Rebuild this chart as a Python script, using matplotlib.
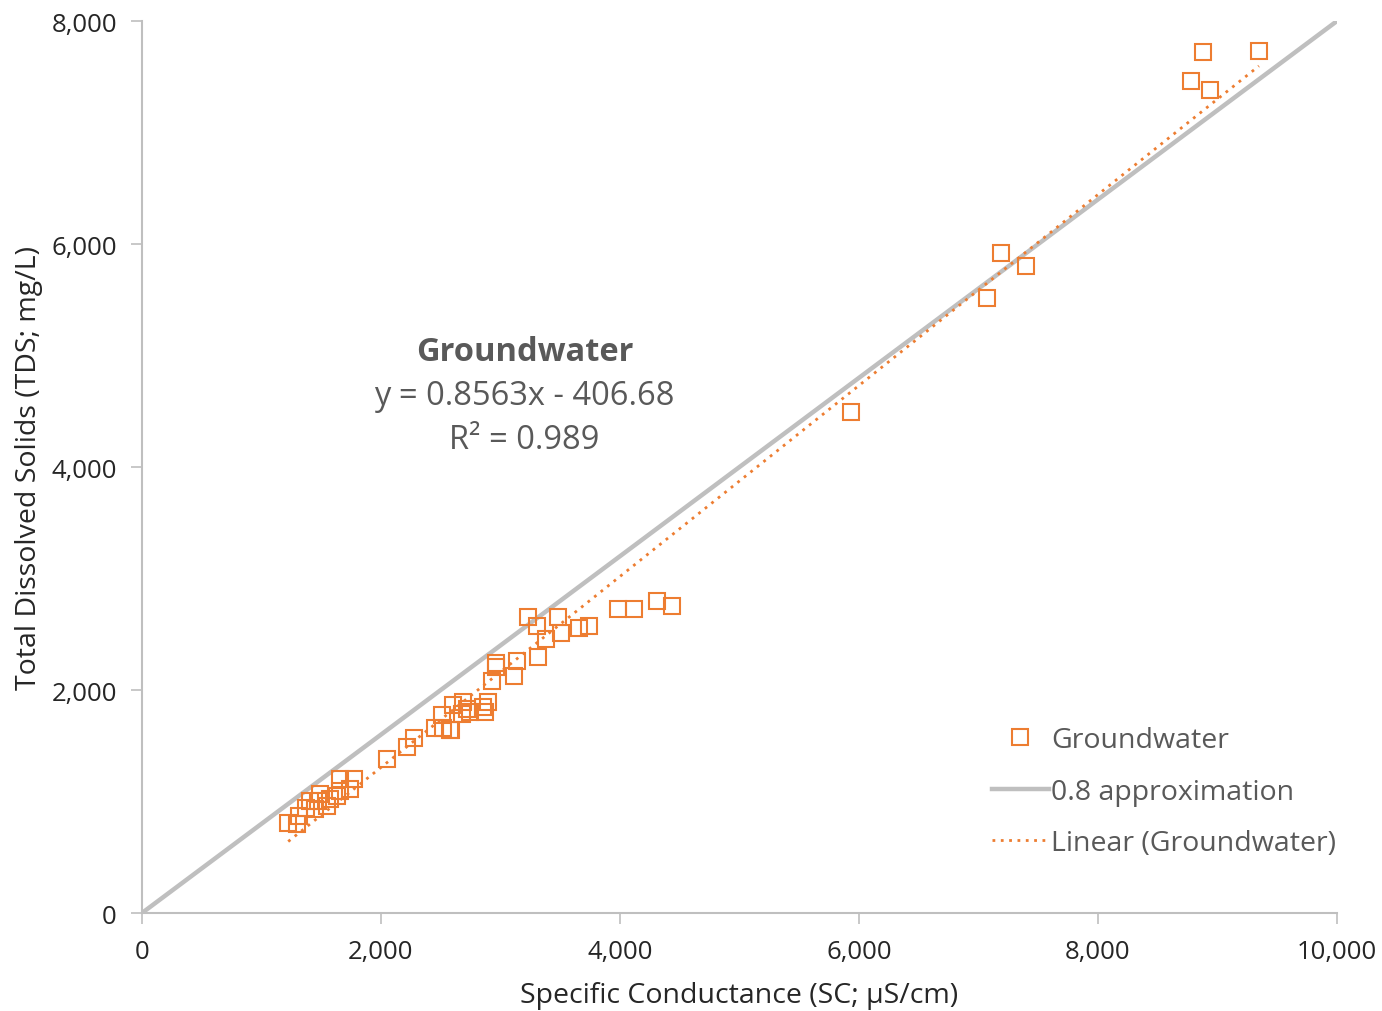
import numpy as np
import matplotlib.pyplot as plt
from matplotlib.ticker import FuncFormatter, MultipleLocator

plt.rcParams['font.family'] = ['Open Sans', 'DejaVu Sans']

# Groundwater samples: specific conductance (uS/cm) and TDS (mg/L)
sc = [1224, 1294, 1316, 1372, 1406, 1448, 1476, 1490, 1545, 1573,
      1629, 1657, 1657, 1741, 1774, 2047, 2215, 2279, 2452, 2508,
      2516, 2577, 2589, 2605, 2675, 2689, 2717, 2745, 2856, 2870,
      2898, 2926, 2960, 2960, 3115, 3135, 3233, 3303, 3311, 3378,
      3478, 3506, 3657, 3741, 3981, 4120, 4312, 4432, 5933, 7068,
      7188, 7394, 8780, 8876, 8937, 9347]
tds = [804, 798, 873, 939, 1007, 934, 1007, 1067, 962, 1022,
       1052, 1097, 1202, 1112, 1202, 1381, 1492, 1567, 1656, 1776,
       1656, 1644, 1640, 1865, 1785, 1889, 1830, 1800, 1845, 1805,
       1889, 2078, 2239, 2203, 2128, 2263, 2657, 2577, 2299, 2454,
       2657, 2511, 2553, 2577, 2726, 2726, 2798, 2750, 4493, 5513,
       5922, 5806, 7459, 7719, 7381, 7728]

slope = 0.8563
intercept = -406.68
r2 = 0.989
approx_factor = 0.8

orange = '#ED7D31'
gray_line = '#BFBFBF'
text_col = '#595959'

fig = plt.figure(figsize=(13.82, 10.12), dpi=100)
ax = fig.add_axes([0.1027, 0.0968, 0.8647, 0.8814])

ax.plot(sc, tds, 's', ms=11, mfc='none', mec=orange, mew=1.5,
        label='Groundwater', zorder=3)

xa = np.array([0, 10000])
ax.plot(xa, approx_factor * xa, color=gray_line, lw=3.2,
        label='0.8 approximation', zorder=2)

xt = np.array([min(sc), max(sc)])
ax.plot(xt, slope * xt + intercept, color=orange, lw=2,
        linestyle=(0, (1, 2)), label='Linear (Groundwater)', zorder=2)

ax.set_xlim(0, 10000)
ax.set_ylim(0, 8000)
ax.xaxis.set_major_locator(MultipleLocator(2000))
ax.yaxis.set_major_locator(MultipleLocator(2000))
fmt = FuncFormatter(lambda v, p: f'{int(v):,}')
ax.xaxis.set_major_formatter(fmt)
ax.yaxis.set_major_formatter(fmt)

for s in ['top', 'right']:
    ax.spines[s].set_visible(False)
for s in ['left', 'bottom']:
    ax.spines[s].set_color('#BFBFBF')
    ax.spines[s].set_linewidth(1.5)
ax.tick_params(colors='#BFBFBF', labelcolor='#262626', labelsize=18.5,
               length=8, width=1.2, direction='out')
ax.tick_params(axis='y', pad=10)
ax.tick_params(axis='x', pad=11)

ax.set_xlabel('Specific Conductance (SC; µS/cm)', fontsize=20.5,
              color='#262626', labelpad=12)
ax.set_ylabel('Total Dissolved Solids (TDS; mg/L)', fontsize=20.5,
              color='#262626', labelpad=6)

ax.text(3200, 5040, 'Groundwater', fontsize=23.5, fontweight='bold',
        color=text_col, ha='center', va='center')
ax.text(3200, 4645, f'y = {slope}x - {abs(intercept)}', fontsize=23.5,
        color=text_col, ha='center', va='center')
ax.text(3200, 4250, f'R² = {r2}', fontsize=23.5,
        color=text_col, ha='center', va='center')

leg = ax.legend(loc='lower right', bbox_to_anchor=(1.021, 0.034),
                frameon=False, fontsize=20.5, handlelength=2.0,
                handletextpad=0.1, labelspacing=0.82)
for t in leg.get_texts():
    t.set_color(text_col)

fig.savefig('out.png', dpi=100)
